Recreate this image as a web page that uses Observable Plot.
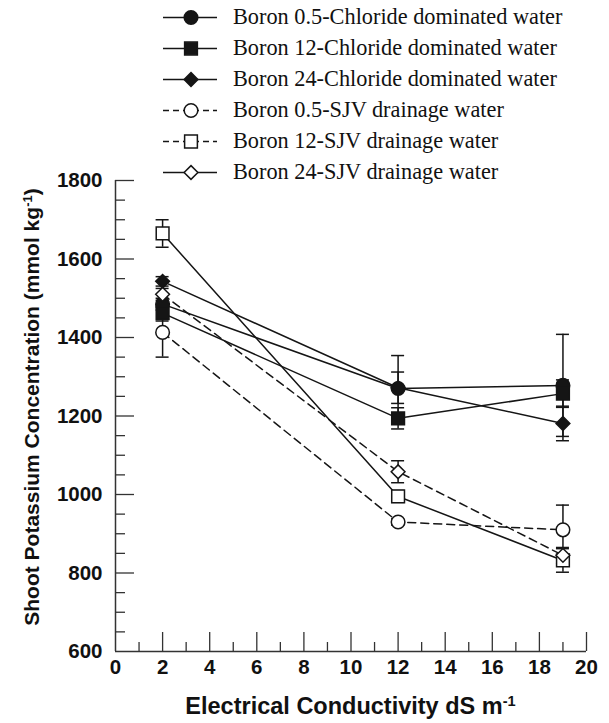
<!DOCTYPE html>
<html><head><meta charset="utf-8">
<script src="https://cdn.jsdelivr.net/npm/d3@7"></script>
<script src="https://cdn.jsdelivr.net/npm/@observablehq/plot@0.6"></script>
<style>
body{margin:0;background:#fff;}
#wrap{position:relative;width:609px;height:723px;overflow:hidden;background:#fff;}
#legend{position:absolute;left:0;top:0;width:609px;height:190px;font-family:"Liberation Serif","Times New Roman",serif;font-size:22.3px;color:#111;}
.row{position:absolute;left:160px;height:31px;display:flex;align-items:center;white-space:nowrap;}
.row svg{margin-right:13px;}
.title{position:absolute;font-family:"Liberation Sans",Arial,sans-serif;font-weight:bold;color:#111;white-space:nowrap;text-align:center;}
.title sup{font-size:62%;vertical-align:0.55em;line-height:0;}
</style></head>
<body>
<div id="wrap">
  <div id="plot"></div>
  <div id="legend"></div>
  <div class="title" id="xtitle" style="left:115px;width:471px;top:692px;font-size:23.5px;line-height:28px;">Electrical Conductivity dS m<sup>-1</sup></div>
  <div class="title" id="ytitle" style="left:-248px;width:560px;top:393px;height:28px;font-size:21px;line-height:28px;transform:rotate(-90deg);">Shoot Potassium Concentration (mmol kg<sup>-1</sup>)</div>
</div>
<script>
// ---- data ----
const ecLevels = [2, 12, 19];
const seriesNames = [
  "Boron 0.5-Chloride dominated water",
  "Boron 12-Chloride dominated water",
  "Boron 24-Chloride dominated water",
  "Boron 0.5-SJV drainage water",
  "Boron 12-SJV drainage water",
  "Boron 24-SJV drainage water"
];
const b05Cl = [1485, 1270, 1278];
const b05ClErr = [15, 84, 130];
const b12Cl = [1462, 1194, 1257];
const b12ClErr = [20, 27, 35];
const b24Cl = [1543, 1272, 1181];
const b24ClErr = [12, 40, 44];
const b05Sjv = [1413, 930, 910];
const b05SjvErr = [63, 8, 63];
const b12Sjv = [1665, 995, 832];
const b12SjvErr = [35, 15, 30];
const b24Sjv = [1510, 1058, 845];
const b24SjvErr = [15, 28, 20];
const xTicks = [0, 2, 4, 6, 8, 10, 12, 14, 16, 18, 20];
const yTicks = [600, 800, 1000, 1200, 1400, 1600, 1800];

// ---- styling per series ----
const ink = "#151515";
const styles = [
  {symbol: "circle", r: 6.8, fill: ink, dash: null, legendDash: null},
  {symbol: "square", r: 7.2, fill: ink, dash: null, legendDash: null},
  {symbol: "diamond2", r: 6.2, fill: ink, dash: null, legendDash: null},
  {symbol: "circle", r: 6.8, fill: "white", dash: "8,5", legendDash: "6,4"},
  {symbol: "square", r: 7.2, fill: "white", dash: null, legendDash: "6,4"},
  {symbol: "diamond2", r: 6.2, fill: "white", dash: "8,5", legendDash: null}
];
const values = [b05Cl, b12Cl, b24Cl, b05Sjv, b12Sjv, b24Sjv];
const errs = [b05ClErr, b12ClErr, b24ClErr, b05SjvErr, b12SjvErr, b24SjvErr];

const series = seriesNames.map((name, i) => ({
  name, ...styles[i],
  rows: ecLevels.map((x, j) => ({x, y: values[i][j], lo: values[i][j] - errs[i][j], hi: values[i][j] + errs[i][j]}))
}));

const W = 609, H = 723, mL = 115, mR = 23, mT = 180, mB = 72;
const plotW = W - mL - mR, plotH = H - mT - mB;
const xMin = 0, xMax = 20;
const capHalf = 6.5 * (xMax - xMin) / plotW;
const yMinor = d3.range(600, 1801, 50).filter(v => !yTicks.includes(v));
const xMinor = d3.range(1, 20, 2);

const marks = [
  Plot.ruleX([xMin], {y1: 600, y2: 1800, stroke: "#333", strokeWidth: 1.5}),
  Plot.ruleY([600], {x1: xMin, x2: xMax, stroke: "#333", strokeWidth: 1.5}),
  Plot.tickY(yTicks.slice(1), {y: d => d, insetRight: plotW - 19, stroke: "#333", strokeWidth: 1.3}),
  Plot.tickY(yMinor, {y: d => d, insetRight: plotW - 10, stroke: "#333", strokeWidth: 1.3}),
  Plot.tickX(xTicks.slice(1), {x: d => d, insetTop: plotH - 19, stroke: "#333", strokeWidth: 1.3}),
  Plot.tickX(xMinor, {x: d => d, insetTop: plotH - 9, stroke: "#333", strokeWidth: 1.3}),
  Plot.axisY({ticks: yTicks, tickFormat: d => String(d), tickSize: 0, tickPadding: 13, fontSize: 20.5, fontWeight: "bold", label: null, fill: "#111"}),
  Plot.axisX({ticks: xTicks, tickFormat: d => String(d), tickSize: 0, tickPadding: 8, fontSize: 20.5, fontWeight: "bold", label: null, fill: "#111"})
];
for (const s of series) {
  marks.push(Plot.line(s.rows, {x: "x", y: "y", stroke: ink, strokeWidth: 1.5, strokeDasharray: s.dash}));
}
for (const s of series) {
  marks.push(Plot.ruleX(s.rows, {x: "x", y1: "lo", y2: "hi", stroke: ink, strokeWidth: 1.5}));
  marks.push(Plot.ruleY(s.rows, {y: "lo", x1: d => d.x - capHalf, x2: d => d.x + capHalf, stroke: ink, strokeWidth: 1.5}));
  marks.push(Plot.ruleY(s.rows, {y: "hi", x1: d => d.x - capHalf, x2: d => d.x + capHalf, stroke: ink, strokeWidth: 1.5}));
}
for (const s of series) {
  marks.push(Plot.dot(s.rows, {x: "x", y: "y", symbol: () => s.symbol, r: s.r, fill: s.fill, stroke: ink, strokeWidth: 1.5}));
}

const chart = Plot.plot({
  width: W, height: H,
  marginLeft: mL, marginRight: mR, marginTop: mT, marginBottom: mB,
  x: {domain: [xMin, xMax]},
  y: {domain: [600, 1800]},
  symbol: {type: "identity"},
  style: {fontFamily: "'Liberation Sans', Arial, sans-serif", background: "white", color: "#111"},
  marks
});
document.getElementById("plot").appendChild(chart);

// ---- legend ----
const legend = document.getElementById("legend");
series.forEach((s, i) => {
  const row = document.createElement("div");
  row.className = "row";
  row.style.top = (1.5 + i * 31) + "px";
  const svg = d3.create("svg").attr("width", 60).attr("height", 31);
  svg.append("line").attr("x1", 3).attr("x2", 57).attr("y1", 15.5).attr("y2", 15.5)
    .attr("stroke", ink).attr("stroke-width", 1.5).attr("stroke-dasharray", s.legendDash);
  const sym = s.symbol === "circle" ? d3.symbolCircle : s.symbol === "square" ? d3.symbolSquare : d3.symbolDiamond2;
  svg.append("path").attr("transform", "translate(31,15.5)")
    .attr("d", d3.symbol(sym, Math.PI * s.r * s.r)())
    .attr("fill", s.fill).attr("stroke", ink).attr("stroke-width", 1.5);
  row.appendChild(svg.node());
  const span = document.createElement("span");
  span.textContent = s.name;
  row.appendChild(span);
  legend.appendChild(row);
});
</script>
</body></html>
